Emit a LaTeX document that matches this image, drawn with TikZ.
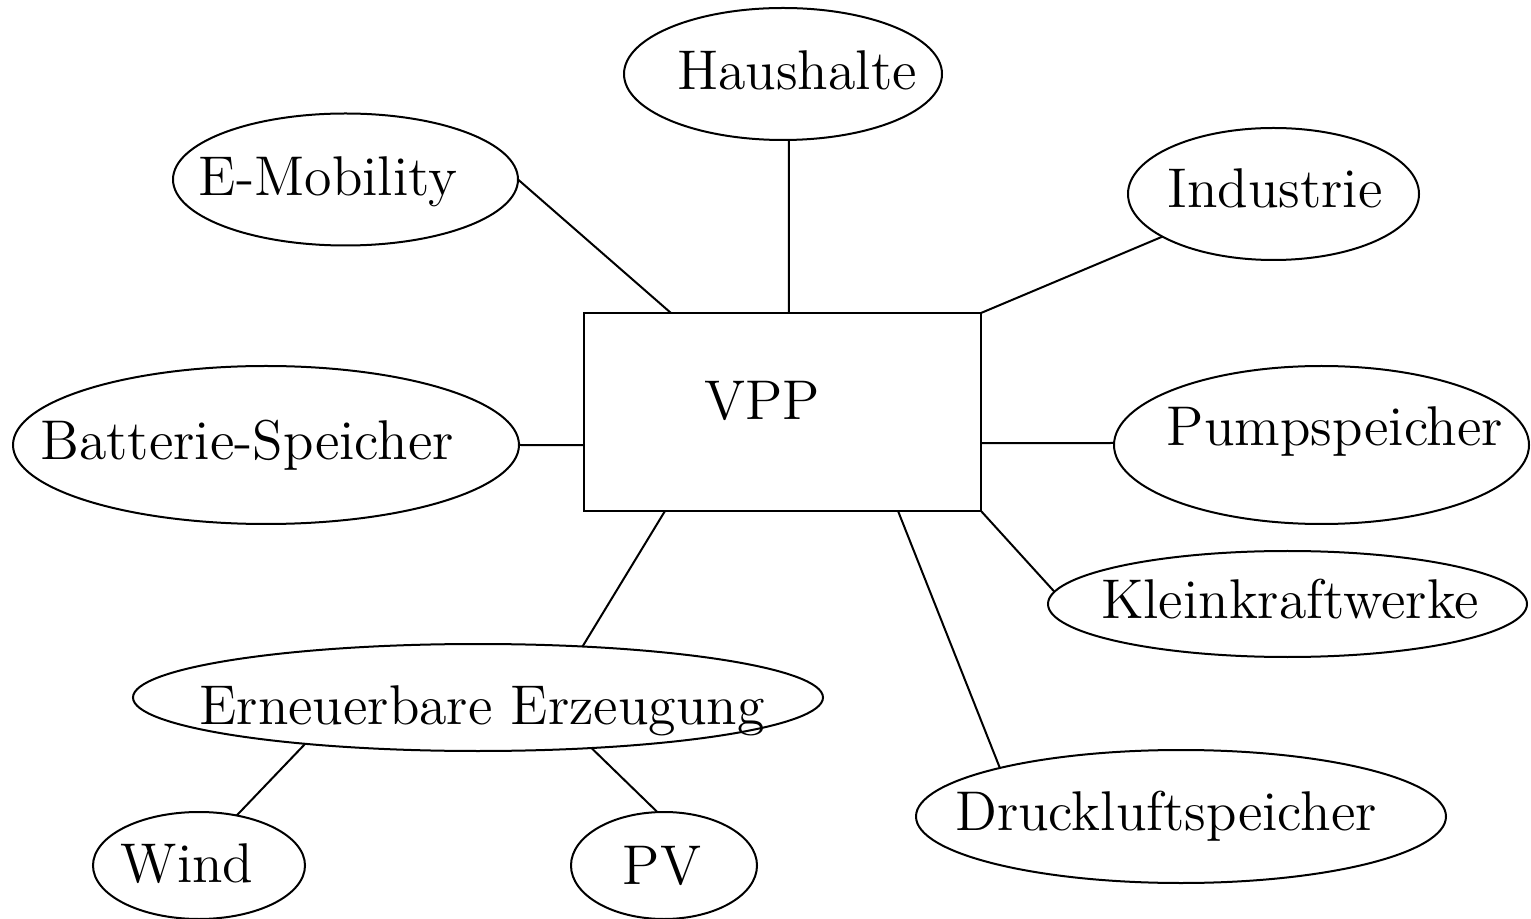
\documentclass[tikz,border=0pt]{standalone}
\usetikzlibrary{shapes.geometric,calc}
\begin{document}
\begin{tikzpicture}[x=0.25pt,y=-0.25pt,
  every node/.style={inner sep=0pt,outer sep=0pt},
  oval/.style={draw,line width=0.5pt,shape=ellipse},
  hub/.style={draw,line width=0.5pt,shape=rectangle},
  caption/.style={anchor=base,font=\fontsize{14}{17}\selectfont},
  link/.style={line width=0.5pt}]
\useasboundingbox (0,0) rectangle (1531,919);

% central box
\node[hub,minimum width=99.25pt,minimum height=49.5pt] (vpp) at (782.5,412) {};
\node[caption] (tvpp) at (762,420) {VPP};

% surrounding ellipses
\node[oval,minimum width=79.5pt,minimum height=33pt]  (haus)  at (783,74) {};
\node[oval,minimum width=86.25pt,minimum height=33pt] (emob)  at (345.5,179.5) {};
\node[oval,minimum width=72.75pt,minimum height=33pt] (ind)   at (1273.5,194) {};
\node[oval,minimum width=126.5pt,minimum height=39.5pt] (batt) at (266,445) {};
\node[oval,minimum width=103.75pt,minimum height=39.5pt] (pump) at (1321.5,445) {};
\node[oval,minimum width=119.75pt,minimum height=26.5pt] (klein) at (1287.5,604) {};
\node[oval,minimum width=172.5pt,minimum height=26.75pt] (ern)  at (478,697.5) {};
\node[oval,minimum width=132.5pt,minimum height=33.25pt] (druck) at (1181,816.5) {};
\node[oval,minimum width=53pt,minimum height=26.75pt]  (wind)  at (199,865.5) {};
\node[oval,minimum width=46.5pt,minimum height=26.75pt] (pv)   at (664,865.5) {};

% labels
\node[caption] (thaus)  at (797,90)  {Haushalte};
\node[caption] (temob)  at (328,196) {E-Mobility};
\node[caption] (tind)   at (1275,208) {Industrie};
\node[caption] (tbatt)  at (247,460) {Batterie-Speicher};
\node[caption] (tpump)  at (1335,446) {Pumpspeicher};
\node[caption] (tklein) at (1290,618) {Kleinkraftwerke};
\node[caption] (tern)   at (482,724) {Erneuerbare Erzeugung};
\node[caption] (tdruck) at (1166,830) {Druckluftspeicher};
\node[caption] (twind)  at (187,882) {Wind};
\node[caption] (tpv)    at (662,884) {PV};

% connectors
\draw[link] (haus.275) -- ($(vpp.north west)!0.516!(vpp.north east)$);
\draw[link] (emob.east) -- ($(vpp.north west)!0.219!(vpp.north east)$);
\draw[link] (ind.201) -- (vpp.north east);
\draw[link] (batt.east |- 0,445) -- ($(vpp.north west)!0.667!(vpp.south west)$);
\draw[link] ($(vpp.north east)!0.657!(vpp.south east)$) -- (pump.west |- 0,443);
\draw[link] (vpp.south east) -- (klein.177);
\draw[link] ($(vpp.south west)!0.791!(vpp.south east)$) -- (druck.165.5);
\draw[link] ($(vpp.south west)!0.204!(vpp.south east)$) -- (ern.26.6);
\draw[link] (ern.195) -- (wind.53.5);
\draw[link] (ern.336) -- (pv.97);
\end{tikzpicture}
\end{document}
